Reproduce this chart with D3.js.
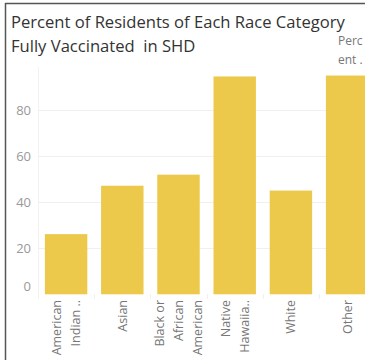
<!DOCTYPE html>
<html><head><meta charset="utf-8">
<script src="https://cdn.jsdelivr.net/npm/d3@7"></script>
<style>
html,body{margin:0;padding:0;background:#fff;overflow:hidden}
svg{display:block}
text{font-family:"Open Sans","Noto Sans",sans-serif;white-space:pre}
</style></head>
<body>
<svg id="c" width="365" height="360"></svg>
<script>
const categories = ["American Indian ..", "Asian", "Black or African American", "Native Hawaiia..", "White", "Other"];
const categoryLines = [["American","Indian .."],["Asian"],["Black or","African","American"],["Native","Hawaiia.."],["White"],["Other"]];
const values = [26.1, 47.1, 51.9, 94.5, 45.0, 94.9];
const yTicks = [0, 20, 40, 60, 80];
const titleLines = ["Percent of Residents of Each Race Category", "Fully Vaccinated  in SHD"];
const headerLines = ["Perc", "ent ."];

const svg = d3.select("#c");
const W = 365, H = 360;

// frame
svg.append("line").attr("x1",5.5).attr("x2",5.5).attr("y1",3).attr("y2",H).attr("stroke","#555").attr("stroke-width",1.5);
svg.append("line").attr("x1",5).attr("x2",W).attr("y1",3.5).attr("y2",3.5).attr("stroke","#555").attr("stroke-width",1.5);

// title
svg.append("g").selectAll("text").data(titleLines).join("text")
  .attr("x",11).attr("y",(d,i)=>28+i*24)
  .attr("font-size",16.6).attr("fill","#333").attr("xml:space","preserve").text(d=>d);

// header
svg.append("g").selectAll("text").data(headerLines).join("text")
  .attr("x",338).attr("y",(d,i)=>45+i*19)
  .attr("font-size",12).attr("fill","#777").text(d=>d);

const x = d3.scaleBand().domain(categories).range([38, 38+6*56.2]).paddingInner(0.245).paddingOuter(0.1225);
const y = d3.scaleLinear().domain([0, 98.6]).range([294.3, 67]);

// vertical axis line
svg.append("line").attr("x1",38.5).attr("x2",38.5).attr("y1",67).attr("y2",296).attr("stroke","#f2f2f2");

// gridlines
svg.append("g").selectAll("line").data(yTicks.filter(d=>d>0)).join("line")
  .attr("x1",38).attr("x2",W).attr("y1",d=>Math.round(y(d))+0.5).attr("y2",d=>Math.round(y(d))+0.5)
  .attr("stroke","#f0f0f0").attr("stroke-width",1);

// y axis via d3
const yAxis = d3.axisLeft(y).tickValues(yTicks).tickSize(0).tickPadding(0);
const gy = svg.append("g").attr("transform","translate(31,0)").call(yAxis);
gy.select(".domain").remove();
gy.selectAll("text").attr("font-size",13).attr("fill","#999").attr("font-family",'"Open Sans","Noto Sans",sans-serif')
  .attr("dy","0.35em").attr("y", d=> d===0 ? -8 : 0);

// bars
svg.append("g").selectAll("rect").data(values).join("rect")
  .attr("x",(d,i)=>x(categories[i])).attr("width",x.bandwidth())
  .attr("y",d=>y(d)).attr("height",d=>y(0)-y(d))
  .attr("fill","#ecc94b");

// separators in label area
svg.append("g").selectAll("line").data(categories).join("line")
  .attr("x1",c=>Math.round(x(c)-x.step()*x.paddingInner()/2)+0.5)
  .attr("x2",c=>Math.round(x(c)-x.step()*x.paddingInner()/2)+0.5)
  .attr("y1",294).attr("y2",299).attr("stroke","#f0f0f0");

// x labels
const xl = svg.append("g");
categories.forEach((c,i)=>{
  const lines = categoryLines[i];
  const cx = x(c)+x.bandwidth()/2;
  const n = lines.length;
  lines.forEach((ln,j)=>{
    const lx = cx + (j-(n-1)/2)*18.7;
    xl.append("text")
      .attr("transform",`translate(${lx+4.5},300) rotate(-90)`)
      .attr("text-anchor","end").attr("font-size",12.5).attr("fill","#777")
      .text(ln);
  });
});
</script>
</body></html>
